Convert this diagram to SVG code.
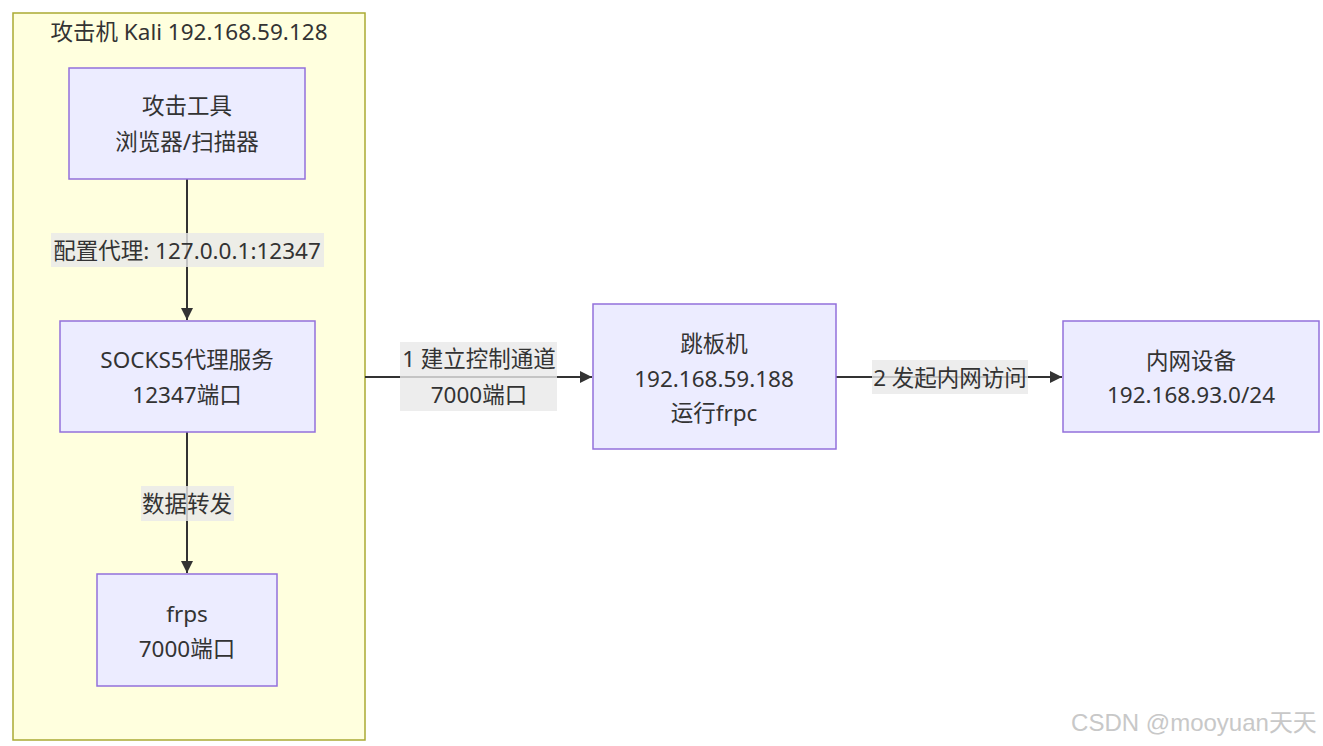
<svg xmlns="http://www.w3.org/2000/svg" width="1323" height="746" viewBox="0 0 1323 746">
<defs>
<style>
text{font-family:"Noto Sans","Noto Sans CJK SC",sans-serif;font-size:22.5px;fill:#333;text-anchor:middle;dominant-baseline:central}
.node{fill:#ececff;stroke:#9370db;stroke-width:1.5}
.edge{stroke:#333;stroke-width:2;fill:none;marker-end:url(#arr)}
.lbl{fill:#e8e8e8;opacity:0.8}
</style>
<marker id="arr" viewBox="0 0 10 10" refX="10" refY="5" markerWidth="6" markerHeight="6" markerUnits="strokeWidth" orient="auto">
<path d="M0,0 L10,5 L0,10 z" fill="#333"/>
</marker>
</defs>
<rect width="1323" height="746" fill="#fff"/>
<g id="cluster-kali">
<rect x="13" y="13" width="352" height="727" fill="#ffffde" stroke="#aaaa33" stroke-width="1.5"/>
<text x="189" y="31">攻击机 Kali 192.168.59.128</text>
</g>
<g id="connectors">
<path class="edge" d="M187,179 L187,320"/>
<rect class="lbl" x="51" y="233" width="273" height="34"/>
<text x="187" y="250">配置代理: 127.0.0.1:12347</text>
<path class="edge" d="M187,432 L187,573"/>
<rect class="lbl" x="141" y="486" width="93" height="35"/>
<text x="187" y="503">数据转发</text>
<path class="edge" d="M365,377 L592,377"/>
<rect class="lbl" x="400" y="342" width="157" height="69"/>
<text x="479" y="358">1 建立控制通道</text>
<text x="479" y="394">7000端口</text>
<path class="edge" d="M836,377 L1062,377"/>
<rect class="lbl" x="872" y="360" width="156" height="34"/>
<text x="950" y="377">2 发起内网访问</text>
</g>
<g id="node-tools">
<rect class="node" x="69" y="68" width="236" height="111"/>
<text x="187" y="105">攻击工具</text>
<text x="187" y="141">浏览器/扫描器</text>
</g>
<g id="node-socks">
<rect class="node" x="60" y="321" width="255" height="111"/>
<text x="187" y="359">SOCKS5代理服务</text>
<text x="187" y="394">12347端口</text>
</g>
<g id="node-frps">
<rect class="node" x="97" y="574" width="180" height="112"/>
<text x="187" y="613">frps</text>
<text x="187" y="648">7000端口</text>
</g>
<g id="node-jump">
<rect class="node" x="593" y="304" width="243" height="145"/>
<text x="714" y="343">跳板机</text>
<text x="714" y="378">192.168.59.188</text>
<text x="714" y="412">运行frpc</text>
</g>
<g id="node-intranet">
<rect class="node" x="1063" y="321" width="256" height="111"/>
<text x="1191" y="360">内网设备</text>
<text x="1191" y="394">192.168.93.0/24</text>
</g>
<text x="1194" y="722" style="fill:#c8c8c8;font-family:'Liberation Sans','Noto Sans CJK SC',sans-serif;font-size:24px">CSDN @mooyuan天天</text>
</svg>
